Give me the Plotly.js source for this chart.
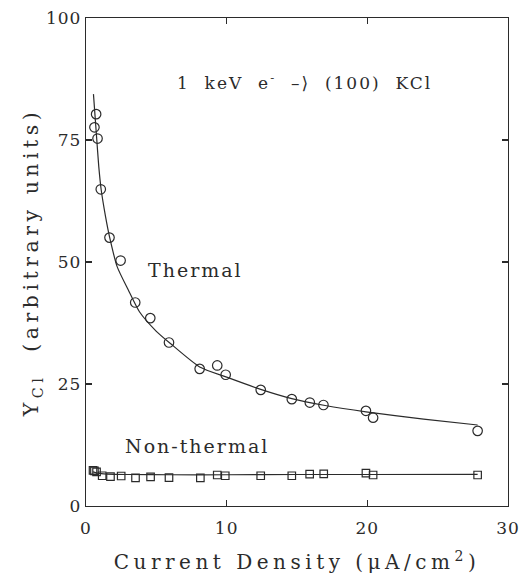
<!DOCTYPE html>
<html>
<head>
<meta charset="utf-8">
<script src="https://cdn.plot.ly/plotly-3.0.1.min.js"></script>
<style>
  html, body { margin: 0; padding: 0; background: #ffffff; }
  #chart { width: 521px; height: 575px; }
  #chart .xtitle { letter-spacing: 4.5px; }
  #chart .ytitle { letter-spacing: 4.5px; }
  #chart .annotation-text { letter-spacing: 2px; }
  #chart .xtick text, #chart .ytick text { letter-spacing: 1px; }
</style>
</head>
<body>
<div id="chart"></div>
<script>
// Thermal data (circles)
const thermalX = [0.60, 0.72, 0.82, 1.05, 1.67, 2.46, 3.5, 4.57, 5.9, 8.08, 9.33, 9.93, 12.42, 14.63, 15.91, 16.88, 19.9, 20.41, 27.84];
const thermalY = [77.6, 80.3, 75.3, 64.9, 55.0, 50.3, 41.7, 38.5, 33.5, 28.1, 28.8, 26.9, 23.8, 21.9, 21.2, 20.7, 19.5, 18.1, 15.4];

// Thermal fit curve
const thermalFitX = [0.53, 0.75, 0.91, 1.08, 1.39, 1.67, 2.22, 3.0, 3.8, 5.0, 6.0, 8.08, 10, 12.42, 14.63, 17, 19.9, 24, 27.84];
const thermalFitY = [84.4, 75.7, 69.5, 64.8, 59.3, 55.2, 49.0, 44.3, 39.8, 35.8, 33.3, 28.5, 26.4, 23.9, 22.0, 20.6, 19.3, 17.8, 16.6];

// Non-thermal data (squares)
const nonThermalX = [0.5, 0.6, 0.75, 1.15, 1.74, 2.5, 3.52, 4.59, 5.9, 8.13, 9.33, 9.9, 12.42, 14.63, 15.9, 16.9, 19.9, 20.41, 27.84];
const nonThermalY = [7.3, 7.2, 7.0, 6.2, 6.0, 6.15, 5.75, 5.95, 5.8, 5.75, 6.35, 6.2, 6.2, 6.2, 6.55, 6.6, 6.75, 6.35, 6.35];

// Non-thermal fit line
const nonThermalFitX = [0.5, 0.8, 1.5, 3, 6, 10, 15, 20, 27.84];
const nonThermalFitY = [7.0, 6.75, 6.55, 6.45, 6.4, 6.4, 6.45, 6.45, 6.5];

// Tick values / labels
const xTicks = [0, 10, 20, 30];
const yTicks = [0, 25, 50, 75, 100];

const ink = '#2b2b2b';
const font = 'DejaVu Serif, Liberation Serif, serif';

const traces = [
  {
    x: thermalFitX, y: thermalFitY, mode: 'lines', type: 'scatter',
    line: { color: ink, width: 1.2, shape: 'spline', smoothing: 0.6 },
    hoverinfo: 'skip', showlegend: false
  },
  {
    x: nonThermalFitX, y: nonThermalFitY, mode: 'lines', type: 'scatter',
    line: { color: ink, width: 1.2, shape: 'spline', smoothing: 0.6 },
    hoverinfo: 'skip', showlegend: false
  },
  {
    x: thermalX, y: thermalY, mode: 'markers', type: 'scatter',
    marker: { symbol: 'circle-open', size: 9.5, color: ink, line: { width: 1.2, color: ink } },
    showlegend: false
  },
  {
    x: nonThermalX, y: nonThermalY, mode: 'markers', type: 'scatter',
    marker: { symbol: 'square-open', size: 7.5, color: ink, line: { width: 1.2, color: ink } },
    showlegend: false
  }
];

const axisCommon = {
  showline: true, linecolor: ink, linewidth: 1.2, mirror: 'ticks',
  ticks: 'inside', ticklen: 6, tickwidth: 1.2, tickcolor: ink,
  showgrid: false, zeroline: false,
  tickfont: { family: font, size: 17, color: ink }
};

const layout = {
  width: 521, height: 575,
  margin: { l: 86, r: 13, t: 18, b: 69 },
  paper_bgcolor: '#ffffff', plot_bgcolor: '#ffffff',
  xaxis: Object.assign({}, axisCommon, {
    range: [0, 30], tickvals: xTicks, ticktext: xTicks.map(String),
    title: { text: 'Current Density (μA/cm<sup>2</sup>)', font: { family: font, size: 20, color: ink }, standoff: 24 }
  }),
  yaxis: Object.assign({}, axisCommon, {
    range: [0, 100], tickvals: yTicks, ticktext: yTicks.map(String),
    title: { text: 'Y<sub>Cl</sub>  (arbitrary units)', font: { family: font, size: 20.5, color: ink }, standoff: 4 }
  }),
  annotations: [
    { x: 15.55, y: 86.9, xref: 'x', yref: 'y', text: '1  keV  e<sup>-</sup>  –⟩  (100)  KCl', showarrow: false,
      xanchor: 'center', yanchor: 'middle', font: { family: font, size: 17, color: ink } },
    { x: 7.76, y: 48.4, xref: 'x', yref: 'y', text: 'Thermal', showarrow: false,
      xanchor: 'center', yanchor: 'middle', font: { family: font, size: 19, color: ink } },
    { x: 7.9, y: 12.3, xref: 'x', yref: 'y', text: 'Non-thermal', showarrow: false,
      xanchor: 'center', yanchor: 'middle', font: { family: font, size: 19, color: ink } }
  ]
};

Plotly.newPlot('chart', traces, layout, { staticPlot: true, displayModeBar: false }).then(function () {
  // nudge the x tick labels a little lower, as in the reference
  document.querySelectorAll('#chart .xtick text').forEach(function (t) {
    const old = t.getAttribute('transform') || '';
    t.setAttribute('transform', 'translate(0,6) ' + old);
  });
});
</script>
</body>
</html>
